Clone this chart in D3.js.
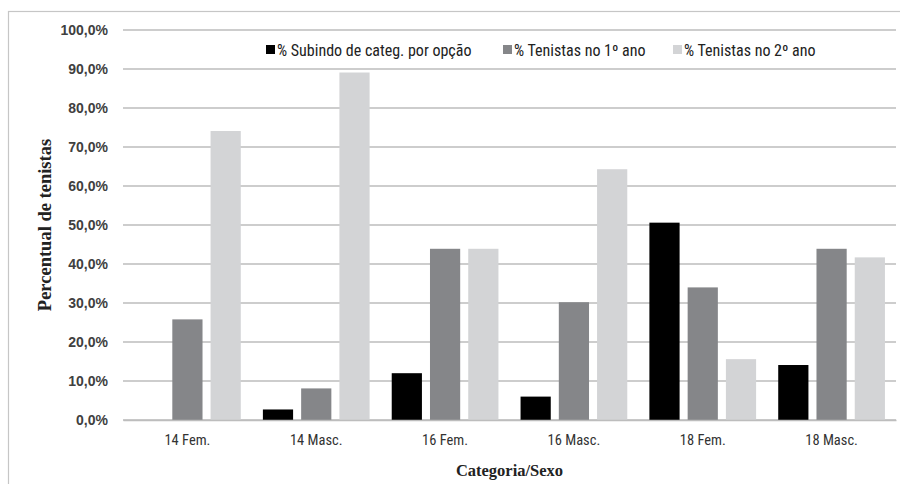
<!DOCTYPE html>
<html>
<head>
<meta charset="utf-8">
<script src="https://cdn.jsdelivr.net/npm/d3@7"></script>
<style>
  html, body { margin: 0; padding: 0; background: #fff; }
  svg { display: block; }
</style>
</head>
<body>
<svg id="chart" width="900" height="484"></svg>
<script>
const categories = ["14 Fem.", "14 Masc.", "16 Fem.", "16 Masc.", "18 Fem.", "18 Masc."];
const seriesNames = ["% Subindo de categ. por opção", "% Tenistas no 1º ano", "% Tenistas no 2º ano"];
const subindo = [0, 2.7, 12.0, 6.0, 50.6, 14.1];
const primeiroAno = [25.8, 8.1, 43.9, 30.2, 34.0, 43.9];
const segundoAno = [74.1, 89.1, 43.9, 64.3, 15.6, 41.7];
const yTicks = [0, 10, 20, 30, 40, 50, 60, 70, 80, 90, 100];
const colors = ["#000000", "#858689", "#d3d4d6"];

const seriesValues = [subindo, primeiroAno, segundoAno];

const svg = d3.select("#chart");
const W = 900, H = 484;
const m = { left: 123, right: 4, top: 30, bottom: 64 };

// outer frame
svg.append("rect")
  .attr("x", 8.5).attr("y", 11.5)
  .attr("width", 900).attr("height", 490)
  .attr("fill", "none").attr("stroke", "#c6c6c6").attr("stroke-width", 1.2);

const x0 = d3.scaleBand().domain(categories).range([m.left, W - m.right]).paddingInner(0).paddingOuter(0);
const x1 = d3.scaleBand().domain(d3.range(seriesNames.length)).range([0, x0.bandwidth()])
  .paddingInner(0.2105).paddingOuter(0.289);
const y = d3.scaleLinear().domain([0, 100]).range([H - m.bottom, m.top]);

// gridlines
svg.append("g").selectAll("line").data(yTicks).join("line")
  .attr("x1", m.left).attr("x2", W - m.right)
  .attr("y1", d => y(d)).attr("y2", d => y(d))
  .attr("stroke", "#bdbdbd").attr("stroke-width", 1.6);

// y tick labels
const yAxis = d3.axisLeft(y).tickValues(yTicks)
  .tickFormat(d => d3.format(".1f")(d).replace(".", ",") + "%")
  .tickSize(0).tickPadding(15);
const gy = svg.append("g").attr("transform", `translate(${m.left},0)`).call(yAxis);
gy.select(".domain").remove();
gy.selectAll("text")
  .attr("font-family", "'Liberation Sans', Arial, sans-serif")
  .attr("font-size", 14).attr("font-weight", "bold").attr("fill", "#404040");

// bars
const rows = [];
categories.forEach((c, i) => {
  seriesValues.forEach((vals, s) => rows.push({ c, s, v: vals[i] }));
});
svg.append("g").selectAll("rect").data(rows).join("rect")
  .attr("x", d => x0(d.c) + x1(d.s))
  .attr("width", x1.bandwidth())
  .attr("y", d => y(d.v))
  .attr("height", d => y(0) - y(d.v))
  .attr("fill", d => colors[d.s]);

// x axis
const xAxis = d3.axisBottom(x0).tickSize(0).tickPadding(15);
const gx = svg.append("g").attr("transform", `translate(0,${y(0)})`).call(xAxis);
gx.select(".domain").attr("stroke", "#bdbdbd").attr("stroke-width", 1.6);
gx.selectAll("text")
  .attr("font-family", "'Liberation Sans Narrow', 'Roboto Condensed', Arial, sans-serif")
  .attr("font-size", 14.5).attr("fill", "#333");

// axis titles
svg.append("text")
  .attr("x", (m.left + W - m.right) / 2).attr("y", 476)
  .attr("text-anchor", "middle")
  .attr("font-family", "'Liberation Serif', 'Times New Roman', serif")
  .attr("font-size", 16.5).attr("font-weight", "bold").attr("fill", "#222")
  .text("Categoria/Sexo");

svg.append("text")
  .attr("transform", `translate(51,${(y(0) + y(100)) / 2}) rotate(-90)`)
  .attr("text-anchor", "middle")
  .attr("font-family", "'Liberation Serif', 'Times New Roman', serif")
  .attr("font-size", 18.5).attr("font-weight", "bold").attr("fill", "#222")
  .text("Percentual de tenistas");

// legend
const legendX = [266, 503, 673];
const lg = svg.append("g").selectAll("g").data(seriesNames).join("g")
  .attr("transform", (d, i) => `translate(${legendX[i]},50)`);
lg.append("rect").attr("x", 0).attr("y", -5).attr("width", 9).attr("height", 9)
  .attr("fill", (d, i) => colors[i]);
lg.append("text").attr("x", 11).attr("y", 0).attr("dy", "0.35em")
  .attr("font-family", "'Liberation Sans Narrow', 'Roboto Condensed', Arial, sans-serif")
  .attr("font-size", 16).attr("fill", "#222")
  .text(d => d);
</script>
</body>
</html>
